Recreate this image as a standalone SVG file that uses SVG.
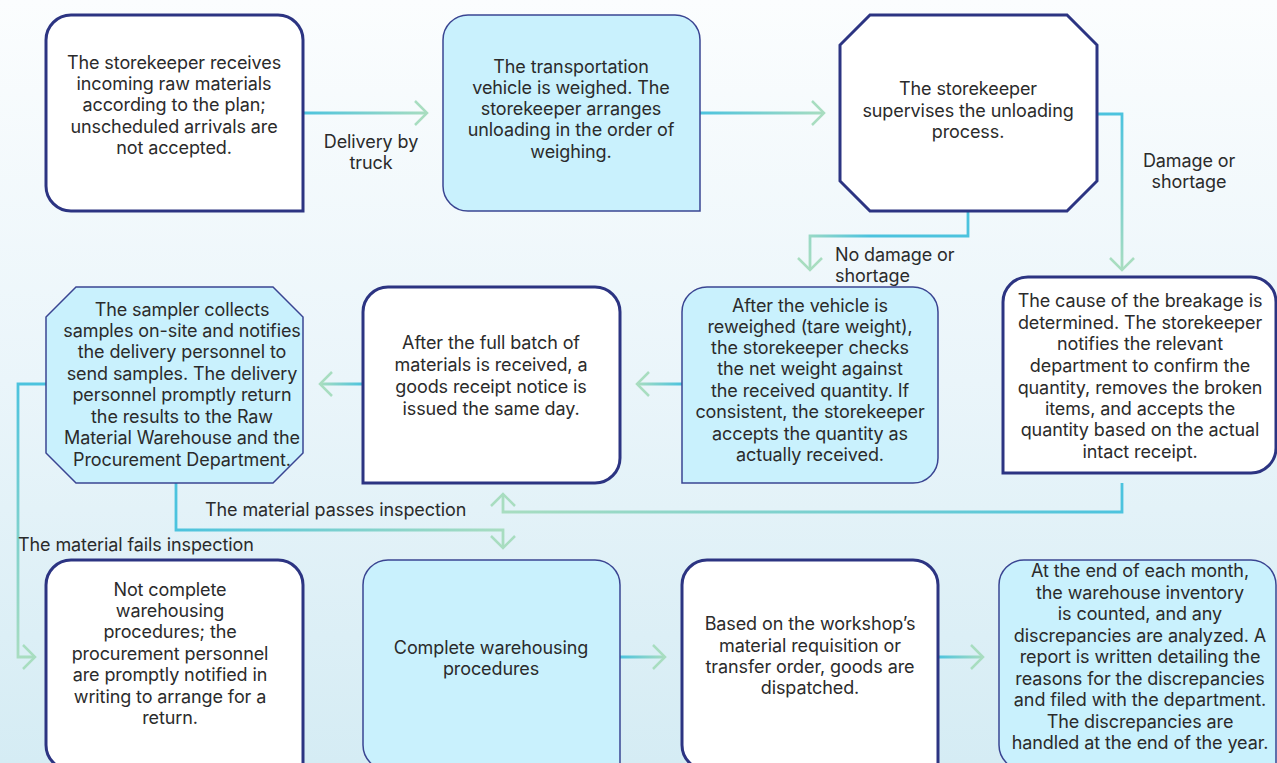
<svg xmlns="http://www.w3.org/2000/svg" width="1277" height="763" viewBox="0 0 1277 763">
<defs>
<linearGradient id="bg" x1="0" y1="0" x2="0" y2="1">
<stop offset="0" stop-color="#FBFDFE"/>
<stop offset="0.5" stop-color="#EAF5FA"/>
<stop offset="1" stop-color="#D5ECF4"/>
</linearGradient>
<linearGradient id="g1" gradientUnits="userSpaceOnUse" x1="303" y1="0" x2="427" y2="0"><stop offset="0" stop-color="#4CC3DE"/><stop offset="1" stop-color="#A8DDC0"/></linearGradient>
<linearGradient id="g2" gradientUnits="userSpaceOnUse" x1="700" y1="0" x2="824" y2="0"><stop offset="0" stop-color="#4CC3DE"/><stop offset="1" stop-color="#A8DDC0"/></linearGradient>
<linearGradient id="g3" gradientUnits="userSpaceOnUse" x1="0" y1="114" x2="0" y2="270"><stop offset="0" stop-color="#4CC3DE"/><stop offset="1" stop-color="#A8DDC0"/></linearGradient>
<linearGradient id="g4" gradientUnits="userSpaceOnUse" x1="968" y1="211" x2="810" y2="270"><stop offset="0" stop-color="#4CC3DE"/><stop offset="0.6" stop-color="#4CC3DE"/><stop offset="1" stop-color="#A8DDC0"/></linearGradient>
<linearGradient id="g5" gradientUnits="userSpaceOnUse" x1="682" y1="0" x2="637" y2="0"><stop offset="0" stop-color="#4CC3DE"/><stop offset="1" stop-color="#A8DDC0"/></linearGradient>
<linearGradient id="g6" gradientUnits="userSpaceOnUse" x1="363" y1="0" x2="320" y2="0"><stop offset="0" stop-color="#4CC3DE"/><stop offset="1" stop-color="#A8DDC0"/></linearGradient>
<linearGradient id="g7" gradientUnits="userSpaceOnUse" x1="1122" y1="0" x2="503" y2="0"><stop offset="0" stop-color="#4CC3DE"/><stop offset="1" stop-color="#A8DDC0"/></linearGradient>
<linearGradient id="g8" gradientUnits="userSpaceOnUse" x1="176" y1="0" x2="503" y2="0"><stop offset="0" stop-color="#4CC3DE"/><stop offset="1" stop-color="#A8DDC0"/></linearGradient>
<linearGradient id="g9" gradientUnits="userSpaceOnUse" x1="0" y1="384" x2="0" y2="657"><stop offset="0" stop-color="#4CC3DE"/><stop offset="1" stop-color="#A8DDC0"/></linearGradient>
<linearGradient id="g10" gradientUnits="userSpaceOnUse" x1="620" y1="0" x2="665" y2="0"><stop offset="0" stop-color="#4CC3DE"/><stop offset="1" stop-color="#A8DDC0"/></linearGradient>
<linearGradient id="g11" gradientUnits="userSpaceOnUse" x1="938" y1="0" x2="983" y2="0"><stop offset="0" stop-color="#4CC3DE"/><stop offset="1" stop-color="#A8DDC0"/></linearGradient>
<marker id="arr" viewBox="-2 -2 16 28" refX="12" refY="12" markerWidth="16" markerHeight="28" markerUnits="userSpaceOnUse" orient="auto" overflow="visible">
<path d="M0,0 L12,12 L0,24" fill="none" stroke="#A8DDC0" stroke-width="2.5"/>
</marker>
</defs>
<style>
.white{fill:#FFFFFF;stroke:#2C3482;stroke-width:3}
.blue{fill:#C9F1FD;stroke:#3A4592;stroke-width:1.5}
.t{font-family:Inter,"Liberation Sans",sans-serif;font-size:18px;letter-spacing:-0.1px;fill:#2B2B2B;text-anchor:middle}
.l{font-family:Inter,"Liberation Sans",sans-serif;font-size:18px;letter-spacing:-0.1px;fill:#2B2B2B}
.c{fill:none;stroke-width:2.8;marker-end:url(#arr)}
</style>
<rect x="0" y="0" width="1277" height="763" fill="url(#bg)"/>

<g id="connectors">
<path class="c" stroke="url(#g1)" d="M303,113 H427"/>
<path class="c" stroke="url(#g2)" d="M700,113 H824"/>
<path class="c" stroke="url(#g3)" d="M1097,114 H1122 V270"/>
<path class="c" stroke="url(#g4)" d="M968,211 V236 H810 V270"/>
<path class="c" stroke="url(#g5)" d="M682,384 H637"/>
<path class="c" stroke="url(#g6)" d="M363,384 H320"/>
<path class="c" stroke="url(#g7)" d="M1122,483 V512 H503 V494"/>
<path class="c" stroke="url(#g8)" d="M176,483 V530 H503 V548"/>
<path class="c" stroke="url(#g9)" d="M46,384 H18 V657 H35"/>
<path class="c" stroke="url(#g10)" d="M620,657 H665"/>
<path class="c" stroke="url(#g11)" d="M938,657 H983"/>
<text class="t" x="371" y="148">Delivery by</text>
<text class="t" x="371" y="169">truck</text>
<text class="t" x="1189" y="167">Damage or</text>
<text class="t" x="1189" y="188">shortage</text>
<text class="l" x="835" y="261">No damage or</text>
<text class="l" x="835" y="282">shortage</text>
<text class="l" x="205" y="516">The material passes inspection</text>
<text class="l" x="18" y="551">The material fails inspection</text>
</g>

<g id="n1">
<path class="white" d="M71,15 H278 A25,25 0 0 1 303,40 V211 H71 A25,25 0 0 1 46,186 V40 A25,25 0 0 1 71,15 Z"/>
<text class="t" x="174" y="69">The storekeeper receives</text>
<text class="t" x="174" y="90">incoming raw materials</text>
<text class="t" x="174" y="111">according to the plan;</text>
<text class="t" x="174" y="133">unscheduled arrivals are</text>
<text class="t" x="174" y="154">not accepted.</text>
</g>

<g id="n2">
<path class="blue" d="M468,15 H675 A25,25 0 0 1 700,40 V211 H468 A25,25 0 0 1 443,186 V40 A25,25 0 0 1 468,15 Z"/>
<text class="t" x="571" y="73">The transportation</text>
<text class="t" x="571" y="94">vehicle is weighed. The</text>
<text class="t" x="571" y="115">storekeeper arranges</text>
<text class="t" x="571" y="136">unloading in the order of</text>
<text class="t" x="571" y="158">weighing.</text>
</g>

<g id="n3">
<path class="white" d="M870,15 H1067 L1097,45 V181 L1067,211 H870 L840,181 V45 Z"/>
<text class="t" x="968" y="95">The storekeeper</text>
<text class="t" x="968" y="117">supervises the unloading</text>
<text class="t" x="968" y="138">process.</text>
</g>

<g id="n4">
<path class="blue" d="M707,287 H913 A25,25 0 0 1 938,312 V458 A25,25 0 0 1 913,483 H682 V312 A25,25 0 0 1 707,287 Z"/>
<text class="t" x="810" y="312">After the vehicle is</text>
<text class="t" x="810" y="333">reweighed (tare weight),</text>
<text class="t" x="810" y="354">the storekeeper checks</text>
<text class="t" x="810" y="375">the net weight against</text>
<text class="t" x="810" y="397">the received quantity. If</text>
<text class="t" x="810" y="418">consistent, the storekeeper</text>
<text class="t" x="810" y="440">accepts the quantity as</text>
<text class="t" x="810" y="461">actually received.</text>
</g>

<g id="n5">
<path class="white" d="M388,287 H595 A25,25 0 0 1 620,312 V458 A25,25 0 0 1 595,483 H363 V312 A25,25 0 0 1 388,287 Z"/>
<text class="t" x="491" y="349">After the full batch of</text>
<text class="t" x="491" y="371">materials is received, a</text>
<text class="t" x="491" y="393">goods receipt notice is</text>
<text class="t" x="491" y="415">issued the same day.</text>
</g>

<g id="n6">
<path class="blue" d="M76,287 H273 L303,317 V453 L273,483 H76 L46,453 V317 Z"/>
<text class="t" x="182" y="316">The sampler collects</text>
<text class="t" x="182" y="337">samples on-site and notifies</text>
<text class="t" x="182" y="358">the delivery personnel to</text>
<text class="t" x="182" y="380">send samples. The delivery</text>
<text class="t" x="182" y="401">personnel promptly return</text>
<text class="t" x="182" y="423">the results to the Raw</text>
<text class="t" x="182" y="444">Material Warehouse and the</text>
<text class="t" x="182" y="466">Procurement Department.</text>
</g>

<g id="n7">
<path class="white" d="M1028,277 H1251 A25,25 0 0 1 1276,302 V448 A25,25 0 0 1 1251,473 H1003 V302 A25,25 0 0 1 1028,277 Z"/>
<text class="t" x="1140" y="307">The cause of the breakage is</text>
<text class="t" x="1140" y="329">determined. The storekeeper</text>
<text class="t" x="1140" y="350">notifies the relevant</text>
<text class="t" x="1140" y="372">department to confirm the</text>
<text class="t" x="1140" y="394">quantity, removes the broken</text>
<text class="t" x="1140" y="415">items, and accepts the</text>
<text class="t" x="1140" y="436">quantity based on the actual</text>
<text class="t" x="1140" y="458">intact receipt.</text>
</g>

<g id="n8">
<path class="white" d="M71,560 H278 A25,25 0 0 1 303,585 V770 H71 A25,25 0 0 1 46,745 V585 A25,25 0 0 1 71,560 Z"/>
<text class="t" x="170" y="596">Not complete</text>
<text class="t" x="170" y="617">warehousing</text>
<text class="t" x="170" y="638">procedures; the</text>
<text class="t" x="170" y="660">procurement personnel</text>
<text class="t" x="170" y="681">are promptly notified in</text>
<text class="t" x="170" y="703">writing to arrange for a</text>
<text class="t" x="170" y="724">return.</text>
</g>

<g id="n9">
<path class="blue" d="M388,560 H595 A25,25 0 0 1 620,585 V770 H388 A25,25 0 0 1 363,745 V585 A25,25 0 0 1 388,560 Z"/>
<text class="t" x="491" y="654">Complete warehousing</text>
<text class="t" x="491" y="675">procedures</text>
</g>

<g id="n10">
<path class="white" d="M707,560 H913 A25,25 0 0 1 938,585 V770 H707 A25,25 0 0 1 682,745 V585 A25,25 0 0 1 707,560 Z"/>
<text class="t" x="810" y="630">Based on the workshop’s</text>
<text class="t" x="810" y="652">material requisition or</text>
<text class="t" x="810" y="673">transfer order, goods are</text>
<text class="t" x="810" y="694">dispatched.</text>
</g>

<g id="n11">
<path class="blue" d="M1024,560 H1251 A25,25 0 0 1 1276,585 V770 H1024 A25,25 0 0 1 999,745 V585 A25,25 0 0 1 1024,560 Z"/>
<text class="t" x="1140" y="577">At the end of each month,</text>
<text class="t" x="1140" y="599">the warehouse inventory</text>
<text class="t" x="1140" y="620">is counted, and any</text>
<text class="t" x="1140" y="642">discrepancies are analyzed. A</text>
<text class="t" x="1140" y="663">report is written detailing the</text>
<text class="t" x="1140" y="685">reasons for the discrepancies</text>
<text class="t" x="1140" y="706">and filed with the department.</text>
<text class="t" x="1140" y="728">The discrepancies are</text>
<text class="t" x="1140" y="749">handled at the end of the year.</text>
</g>
</svg>
